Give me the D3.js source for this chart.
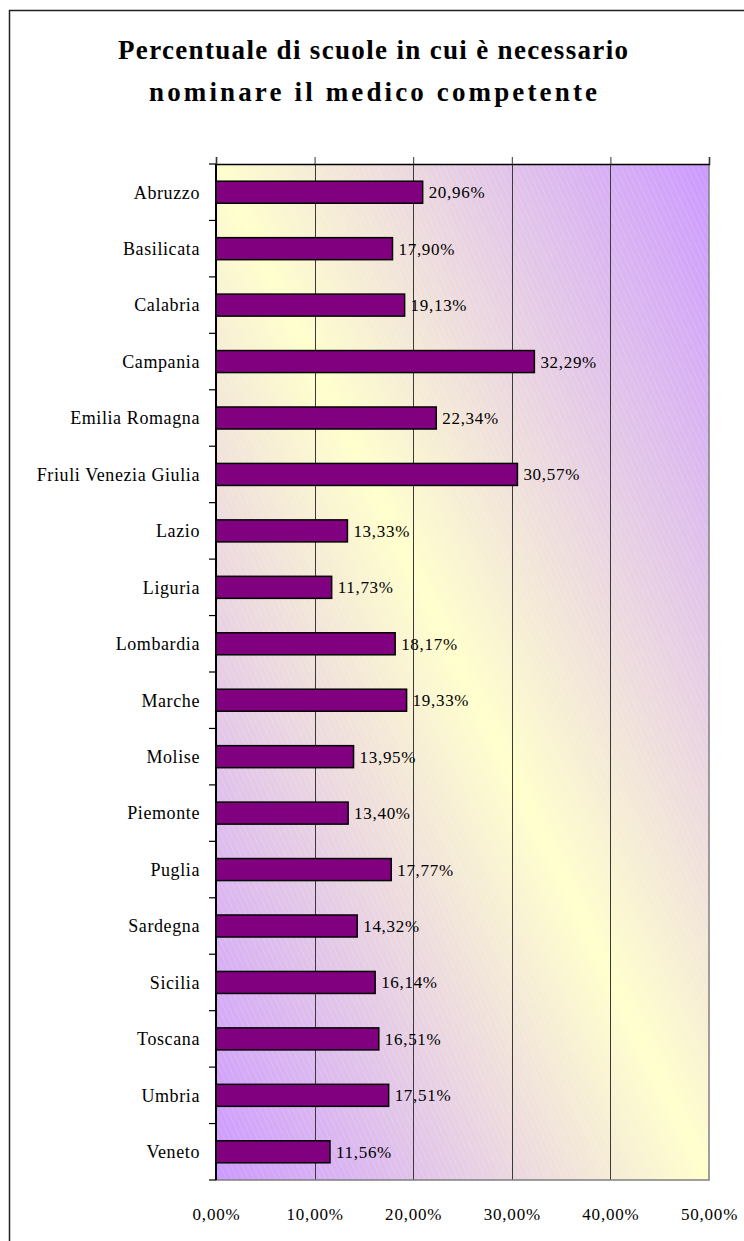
<!DOCTYPE html>
<html>
<head>
<meta charset="utf-8">
<script src="https://cdn.jsdelivr.net/npm/d3@7"></script>
<style>
  body { margin: 0; background: #fff; }
  svg text { font-family: "Liberation Serif", "DejaVu Serif", serif; fill: #000; }
</style>
</head>
<body>
<div class="chart"></div>
<script>
// chart data
var regions = ["Abruzzo", "Basilicata", "Calabria", "Campania", "Emilia Romagna",
  "Friuli Venezia Giulia", "Lazio", "Liguria", "Lombardia", "Marche", "Molise",
  "Piemonte", "Puglia", "Sardegna", "Sicilia", "Toscana", "Umbria", "Veneto"];
var percentages = [20.96, 17.90, 19.13, 32.29, 22.34, 30.57, 13.33, 11.73, 18.17,
  19.33, 13.95, 13.40, 17.77, 14.32, 16.14, 16.51, 17.51, 11.56];
var xTicks = [0, 10, 20, 30, 40, 50];
var titleLines = ["Percentuale di scuole in cui è necessario", "nominare il medico competente"];

var svgWidth = 744;
var svgHeight = 1241;

var margin = { top: 164, right: 35, bottom: 61, left: 216 };
var width = svgWidth - margin.left - margin.right;
var height = svgHeight - margin.top - margin.bottom;

// widths of the two title lines in the original
var titleWidths = [510, 448];

var fmt = function(v) { return v.toFixed(2).replace(".", ",") + "%"; };

var svg = d3.select(".chart")
  .append("svg")
  .attr("width", svgWidth)
  .attr("height", svgHeight);

var defs = svg.append("defs");

// diagonal two-tone gradient of the plot area
var grad = defs.append("linearGradient")
  .attr("id", "bgGrad")
  .attr("x1", 0).attr("y1", 1)
  .attr("x2", 1).attr("y2", 0);
grad.append("stop").attr("offset", "0%").attr("stop-color", "#cc99ff");
grad.append("stop").attr("offset", "50%").attr("stop-color", "#ffffcc");
grad.append("stop").attr("offset", "100%").attr("stop-color", "#cc99ff");

// faint white hatching on top
var hatch = defs.append("pattern")
  .attr("id", "hatch")
  .attr("patternUnits", "userSpaceOnUse")
  .attr("width", 5).attr("height", 5)
  .attr("patternTransform", "rotate(-25)");
hatch.append("line")
  .attr("x1", 0).attr("y1", 0).attr("x2", 0).attr("y2", 5)
  .attr("stroke", "#fff")
  .attr("stroke-opacity", 0.35)
  .attr("stroke-width", 0.8);

// outer frame (only top and left visible)
svg.append("rect")
  .attr("x", 9.5).attr("y", 10.5)
  .attr("width", 760).attr("height", 1260)
  .attr("fill", "none")
  .attr("stroke", "#222")
  .attr("stroke-width", 1.5);

// title
svg.append("text")
  .attr("text-anchor", "middle")
  .attr("font-weight", "bold")
  .attr("font-size", 27)
  .selectAll("tspan")
  .data(titleLines)
  .enter()
  .append("tspan")
  .attr("x", 373)
  .attr("y", (d, i) => 59 + i * 42)
  .attr("textLength", (d, i) => titleWidths[i])
  .attr("lengthAdjust", "spacing")
  .text(d => d);

var chartGroup = svg.append("g")
  .attr("transform", `translate(${margin.left}, ${margin.top})`);

var xScale = d3.scaleLinear()
  .domain([0, 50])
  .range([0, width]);

var yScale = d3.scaleBand()
  .domain(regions)
  .range([0, height])
  .paddingInner(0.61)
  .paddingOuter(0.305);

// plot background
chartGroup.append("rect")
  .attr("width", width).attr("height", height)
  .attr("fill", "url(#bgGrad)");
chartGroup.append("rect")
  .attr("width", width).attr("height", height)
  .attr("fill", "url(#hatch)");

// vertical gridlines
chartGroup.selectAll(".grid")
  .data(xTicks.slice(1, -1))
  .enter()
  .append("line")
  .attr("class", "grid")
  .attr("x1", d => Math.round(xScale(d)) + 0.5)
  .attr("x2", d => Math.round(xScale(d)) + 0.5)
  .attr("y1", 0).attr("y2", height)
  .attr("stroke", "#3a3a3a")
  .attr("stroke-width", 1);

// right and bottom border of plot area
chartGroup.append("path")
  .attr("d", `M${width},0V${height}H0`)
  .attr("fill", "none")
  .attr("stroke", "#808080")
  .attr("stroke-width", 1.5);

// top axis with ticks, no labels
var topAxis = d3.axisTop(xScale).tickValues(xTicks).tickSize(7).tickFormat("");
var gTop = chartGroup.append("g").call(topAxis);
gTop.select(".domain").attr("stroke", "#000").attr("stroke-width", 1.5);
gTop.selectAll(".tick line").attr("stroke", "#333");

// bottom tick labels
var bottomAxis = d3.axisBottom(xScale).tickValues(xTicks).tickSize(0).tickPadding(28).tickFormat(fmt);
var gBottom = chartGroup.append("g")
  .attr("transform", `translate(0, ${height})`)
  .call(bottomAxis);
gBottom.select(".domain").remove();
gBottom.selectAll("text")
  .attr("font-family", "Liberation Serif")
  .attr("font-size", 17)
  .attr("letter-spacing", 0.8);

// left axis: ticks at the band boundaries
var step = yScale.step();
chartGroup.append("line")
  .attr("x1", 0).attr("x2", 0)
  .attr("y1", 0).attr("y2", height)
  .attr("stroke", "#000")
  .attr("stroke-width", 2);
chartGroup.selectAll(".ytick")
  .data(d3.range(regions.length + 1))
  .enter()
  .append("line")
  .attr("class", "ytick")
  .attr("x1", -7).attr("x2", 0)
  .attr("y1", i => i * step)
  .attr("y2", i => i * step)
  .attr("stroke", "#000")
  .attr("stroke-width", 1.2);

chartGroup.selectAll(".ylabel")
  .data(regions)
  .enter()
  .append("text")
  .attr("class", "ylabel")
  .attr("x", -16)
  .attr("y", d => yScale(d) + yScale.bandwidth() / 2)
  .attr("dy", "0.35em")
  .attr("text-anchor", "end")
  .attr("font-size", 18)
  .attr("letter-spacing", 0.6)
  .text(d => d);

// bars
chartGroup.selectAll(".bar")
  .data(percentages)
  .enter()
  .append("rect")
  .attr("class", "bar")
  .attr("x", 0)
  .attr("y", (d, i) => yScale(regions[i]))
  .attr("width", d => xScale(d))
  .attr("height", yScale.bandwidth())
  .attr("fill", "#800080")
  .attr("stroke", "#000")
  .attr("stroke-width", 1.5);

// value labels
chartGroup.selectAll(".val")
  .data(percentages)
  .enter()
  .append("text")
  .attr("class", "val")
  .attr("x", d => xScale(d) + 6)
  .attr("y", (d, i) => yScale(regions[i]) + yScale.bandwidth() / 2)
  .attr("dy", "0.35em")
  .attr("font-size", 17)
  .attr("letter-spacing", 0.7)
  .text(d => fmt(d));
</script>
</body>
</html>
